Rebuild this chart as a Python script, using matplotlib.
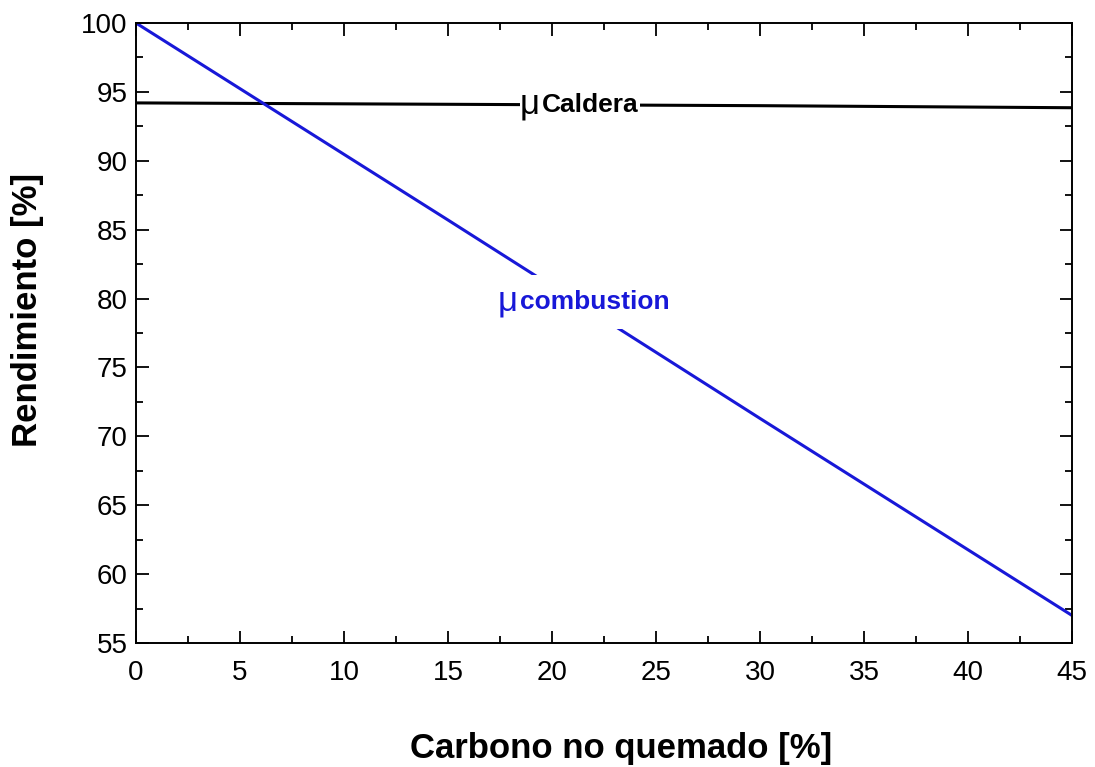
import numpy as np
import matplotlib.pyplot as plt
from matplotlib.ticker import MultipleLocator

# data
carbono = [0, 15, 30, 45]
mu_caldera = [94.2, 94.1, 94.0, 93.85]
mu_combustion = [100.0, 85.7, 71.3, 57.0]

x_ticks = [0, 5, 10, 15, 20, 25, 30, 35, 40, 45]
y_ticks = [55, 60, 65, 70, 75, 80, 85, 90, 95, 100]

plt.rcParams['font.family'] = ['Liberation Sans', 'DejaVu Sans']

blue = '#1818d8'

fig = plt.figure(figsize=(10.95, 7.67), dpi=100)
ax = fig.add_axes([136/1095, 1 - 643/767, (1072-136)/1095, (643-23)/767])

ax.plot(carbono, mu_caldera, color='black', lw=2.2)
ax.plot(carbono, mu_combustion, color=blue, lw=2.2)

# labels sit on the lines with a white box, which makes the gap
def curve_label(x, y, word, color, pad):
    ax.text(x, y, word, color=color, fontsize=19, fontweight='bold', ha='left', va='center',
            bbox=dict(facecolor='white', edgecolor='none', boxstyle='square,pad=%g' % pad), zorder=3)
    ax.annotate('\u03bc', (x, y), xytext=(-1.5, 1), textcoords='offset points', color=color,
                fontsize=25, ha='right', va='center', zorder=4,
                bbox=dict(facecolor='white', edgecolor='none', boxstyle='square,pad=0'))

curve_label(19.5, 94.05, 'Caldera', 'black', 0.05)
curve_label(18.45, 79.75, 'combustion', blue, 0.55)

ax.set_xlim(0, 45)
ax.set_ylim(55, 100)
ax.set_xticks(x_ticks)
ax.set_yticks(y_ticks)
ax.xaxis.set_minor_locator(MultipleLocator(2.5))
ax.yaxis.set_minor_locator(MultipleLocator(2.5))
ax.tick_params(which='both', direction='in', top=True, right=True, width=1.3, labelsize=20)
ax.tick_params(which='major', length=9)
ax.tick_params(axis='x', which='major', pad=12)
ax.tick_params(axis='y', which='major', pad=6)
ax.tick_params(which='minor', length=5)
for s in ax.spines.values():
    s.set_linewidth(1.4)

ax.set_xlabel('Carbono no quemado [%]', fontsize=25, fontweight='bold')
ax.set_ylabel('Rendimiento [%]', fontsize=25, fontweight='bold')
ax.xaxis.set_label_coords(0.518, -0.143)
ax.yaxis.set_label_coords(-0.098, 0.538)

fig.savefig('out.png', dpi=100)
